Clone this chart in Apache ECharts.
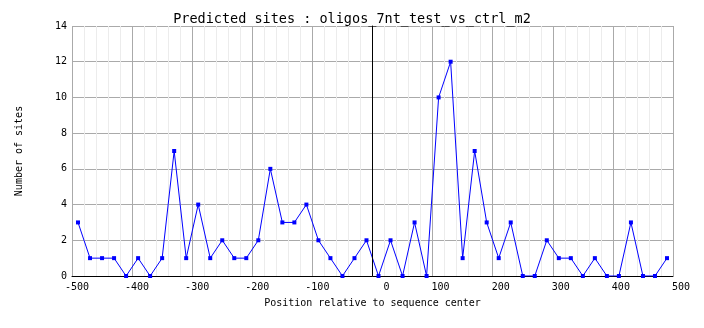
<!DOCTYPE html>
<html>
<head>
<meta charset="utf-8">
<style>
  html, body { margin: 0; padding: 0; background: #fff; }
  #chart { width: 704px; height: 328px; }
</style>
<script src="https://cdn.jsdelivr.net/npm/echarts@6/dist/echarts.min.js"></script>
</head>
<body>
<div id="chart"></div>
<script>
// Window centres (bp relative to sequence centre) and site counts per window
const positions = [
  -490, -470, -450, -430, -410, -390, -370, -350, -330, -310,
  -290, -270, -250, -230, -210, -190, -170, -150, -130, -110,
   -90,  -70,  -50,  -30,  -10,   10,   30,   50,   70,   90,
   110,  130,  150,  170,  190,  210,  230,  250,  270,  290,
   310,  330,  350,  370,  390,  410,  430,  450,  470,  490
];
const siteCounts = [
  3, 1, 1, 1, 0, 1, 0, 1, 7, 1,
  4, 1, 2, 1, 1, 2, 6, 3, 3, 4,
  2, 1, 0, 1, 2, 0, 2, 0, 3, 0,
  10, 12, 1, 7, 3, 1, 3, 0, 0, 2,
  1, 1, 0, 1, 0, 0, 3, 0, 0, 1
];
const chartTitle = 'Predicted sites : oligos_7nt_test_vs_ctrl_m2';
const xAxisTitle = 'Position relative to sequence center';
const yAxisTitle = 'Number of sites';

const mono = '"DejaVu Sans Mono", "Liberation Mono", monospace';
const points = positions.map((p, i) => [p, siteCounts[i]]);

const chart = echarts.init(document.getElementById('chart'), null, { renderer: 'canvas' });
chart.setOption({
  animation: false,
  backgroundColor: '#ffffff',
  title: {
    text: chartTitle,
    left: 'center',
    top: 7,
    textStyle: { fontFamily: mono, fontSize: 13.5, fontWeight: 'normal', color: '#000' }
  },
  grid: { left: 72, right: 31, top: 26, bottom: 52, containLabel: false },
  xAxis: {
    type: 'value',
    min: -500, max: 500, interval: 100,
    name: xAxisTitle,
    nameLocation: 'middle',
    nameGap: 22,
    nameTextStyle: { fontFamily: mono, fontSize: 10, color: '#000' },
    axisLine: { show: true, onZero: false, lineStyle: { color: '#000', width: 1 } },
    axisTick: { show: false },
    axisLabel: {
      margin: 6,
      formatter: v => '{a|' + v + '}',
      rich: { a: { width: 34, align: 'right', fontFamily: mono, fontSize: 10, color: '#000' } }
    },
    splitLine: { show: true, lineStyle: { color: '#aaaaaa', width: 1 } },
    minorTick: { show: false, splitNumber: 5 },
    minorSplitLine: { show: true, lineStyle: { color: '#ececec', width: 1 } }
  },
  yAxis: {
    type: 'value',
    min: 0, max: 14, interval: 2,
    name: yAxisTitle,
    nameLocation: 'middle',
    nameGap: 48,
    nameRotate: 90,
    nameTextStyle: { fontFamily: mono, fontSize: 10, color: '#000' },
    axisLine: { show: true, lineStyle: { color: '#000', width: 1 } },
    axisTick: { show: false },
    axisLabel: { margin: 5, padding: [5, 0, 0, 0], fontFamily: mono, fontSize: 10, color: '#000' },
    splitLine: { show: true, lineStyle: { color: '#aaaaaa', width: 1 } }
  },
  series: [{
    type: 'line',
    data: points,
    symbol: 'rect',
    symbolSize: 4,
    lineStyle: { color: '#0000ff', width: 1 },
    itemStyle: { color: '#0000ff' },
    markLine: {
      silent: true,
      symbol: 'none',
      label: { show: false },
      lineStyle: { color: '#000', width: 1, type: 'solid' },
      data: [{ xAxis: 0 }]
    }
  }]
});
</script>
</body>
</html>
